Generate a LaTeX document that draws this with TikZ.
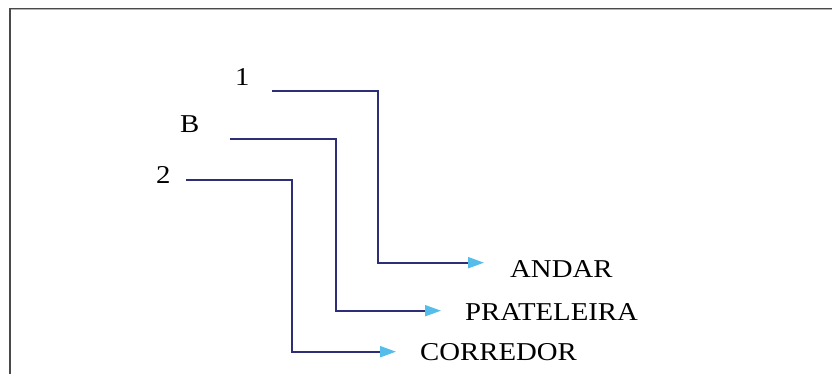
\documentclass[tikz,border=0pt]{standalone}
\usepackage{fontspec}
\setmainfont{Liberation Serif}
\usetikzlibrary{arrows.meta}
\definecolor{linknavy}{HTML}{2E2E78}
\definecolor{tipblue}{HTML}{55BDEA}
\definecolor{framegray}{HTML}{4A4A4A}
\newcommand{\widetext}[1]{\scalebox{1.12}[1]{#1}}
\begin{document}
\begin{tikzpicture}[x=1pt,y=-1pt,
  lbl/.style={anchor=base west,inner sep=0pt,font=\fontsize{25.7}{30}\selectfont},
  link/.style={draw=linknavy,line width=2pt,
    -{Triangle[length=16pt,width=11pt,color=tipblue]}}]
\useasboundingbox (0,0) rectangle (832,374);
\fill[white] (0,0) rectangle (832,374);
% frame edges
\draw[framegray,line width=1.3pt] (10,374) -- (10,8.3) -- (832,8.3);
\draw[gray!60,line width=0.8pt] (10.7,9.8) -- (832,9.8);
% source labels
\node[lbl] (one) at (235,86) {\widetext{1}};
\node[lbl] (bee) at (180,133) {\widetext{B}};
\node[lbl] (two) at (156,183) {\widetext{2}};
% target labels
\node[lbl] (andar) at (510,277) {\widetext{ANDAR}};
\node[lbl] (prat) at (465,320) {\widetext{PRATELEIRA}};
\node[lbl] (corr) at (420,360) {\widetext{CORREDOR}};
% connector ends
\coordinate (s1) at (272,90.7);  \coordinate (k1) at (378,90.7);  \coordinate (t1) at (484,262.7);
\coordinate (s2) at (230,139);   \coordinate (k2) at (335.5,139); \coordinate (t2) at (441,310.7);
\coordinate (s3) at (186,180.5); \coordinate (k3) at (291.5,180.5); \coordinate (t3) at (396,351.7);
\draw[link] (s1) -- (k1) |- (t1);
\draw[link] (s2) -- (k2) |- (t2);
\draw[link] (s3) -- (k3) |- (t3);
\end{tikzpicture}
\end{document}
